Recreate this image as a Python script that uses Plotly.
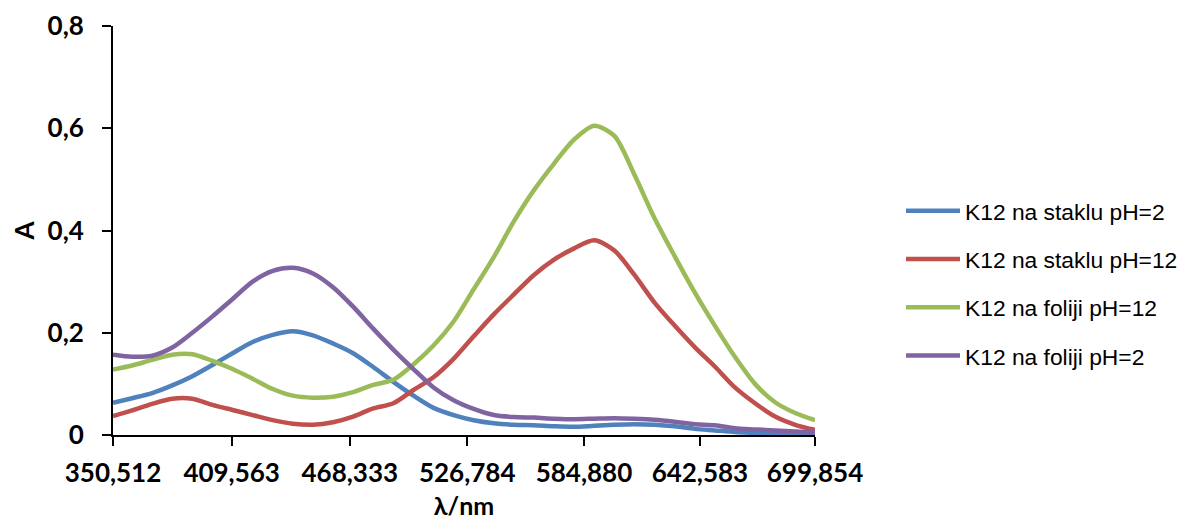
import plotly.graph_objects as go

# ---------------- data ----------------
wavelength = [350.512, 360, 370, 380, 390, 400, 410, 420, 430, 440, 450, 460, 470,
              480, 490, 500, 510, 520, 530, 540, 550, 560, 570, 580, 590, 600,
              610, 620, 630, 640, 650, 660, 670, 680, 690, 699.854]

k12_staklo_ph2 = [0.063, 0.072, 0.082, 0.097, 0.115, 0.137, 0.160, 0.182, 0.196, 0.203,
                  0.195, 0.179, 0.160, 0.133, 0.104, 0.077, 0.053, 0.039, 0.029, 0.023,
                  0.020, 0.019, 0.017, 0.016, 0.018, 0.020, 0.021, 0.020, 0.017, 0.012,
                  0.009, 0.006, 0.004, 0.002, 0.002, 0.002]

k12_staklo_ph12 = [0.037, 0.048, 0.061, 0.071, 0.071, 0.059, 0.049, 0.039, 0.029, 0.022,
                   0.020, 0.025, 0.036, 0.052, 0.062, 0.088, 0.113, 0.149, 0.193, 0.236,
                   0.275, 0.313, 0.343, 0.365, 0.381, 0.361, 0.313, 0.259, 0.214, 0.172,
                   0.134, 0.093, 0.062, 0.036, 0.020, 0.010]

k12_folija_ph12 = [0.128, 0.136, 0.147, 0.157, 0.158, 0.145, 0.129, 0.110, 0.090, 0.077,
                   0.073, 0.075, 0.084, 0.098, 0.108, 0.138, 0.175, 0.222, 0.285, 0.348,
                   0.418, 0.479, 0.531, 0.578, 0.605, 0.585, 0.509, 0.424, 0.350, 0.279,
                   0.214, 0.153, 0.100, 0.064, 0.043, 0.029]

k12_folija_ph2 = [0.157, 0.153, 0.155, 0.171, 0.200, 0.232, 0.266, 0.300, 0.321, 0.327,
                  0.316, 0.289, 0.251, 0.208, 0.167, 0.129, 0.093, 0.068, 0.051, 0.039,
                  0.035, 0.034, 0.032, 0.031, 0.032, 0.033, 0.032, 0.030, 0.026, 0.021,
                  0.019, 0.013, 0.011, 0.009, 0.007, 0.005]

series_names = ["K12 na staklu pH=2", "K12 na staklu pH=12",
                "K12 na foliji pH=12", "K12 na foliji pH=2"]
series_values = [k12_staklo_ph2, k12_staklo_ph12, k12_folija_ph12, k12_folija_ph2]
series_colors = ["#4F81BD", "#C0504D", "#9BBB59", "#8064A2"]

x_tick_values = [350.512, 409.563, 468.333, 526.784, 584.880, 642.583, 699.854]
x_tick_labels = ["350,512", "409,563", "468,333", "526,784", "584,880", "642,583", "699,854"]
y_tick_values = [0, 0.2, 0.4, 0.6, 0.8]

# ---------------- layout geometry ----------------
PAGE_OFF = 8                      # default body margin of the html page
W, H = 1178, 515
ML, MR, MT, MB = 105, 371, 18, 88
PW, PH = W - ML - MR, H - MT - MB


def px_to_paper_x(px):
    return (px - PAGE_OFF - ML) / PW


def px_to_paper_y(py):
    return 1 - (py - PAGE_OFF - MT) / PH


FONT = "Lato, 'Open Sans', 'DejaVu Sans', sans-serif"
LEG_FONT = "'Liberation Sans', Arial, 'DejaVu Sans', sans-serif"

fig = go.Figure()
for name, vals, col in zip(series_names, series_values, series_colors):
    fig.add_trace(go.Scatter(
        x=wavelength, y=vals, name=name, mode="lines",
        line=dict(color=col, width=4.5, shape="spline", smoothing=0.8),
        showlegend=False,
    ))

# manual legend (long line samples like the original)
legend_y_px = [210.7, 259, 307.3, 355.6]
for name, col, ly in zip(series_names, series_colors, legend_y_px):
    fig.add_shape(type="line", xref="paper", yref="paper",
                  x0=px_to_paper_x(906), x1=px_to_paper_x(960),
                  y0=px_to_paper_y(ly), y1=px_to_paper_y(ly),
                  line=dict(color=col, width=4.5))
    fig.add_annotation(xref="paper", yref="paper",
                       x=px_to_paper_x(963), y=px_to_paper_y(ly + 1),
                       xanchor="left", yanchor="middle", showarrow=False,
                       text=name, font=dict(family=LEG_FONT, size=22.8, color="black"))

fig.update_layout(
    width=W, height=H,
    margin=dict(l=ML, r=MR, t=MT, b=MB, autoexpand=False),
    paper_bgcolor="white", plot_bgcolor="white",
    separators=", ",
    showlegend=False,
    font=dict(family=FONT, color="black"),
)

fig.update_xaxes(
    range=[wavelength[0], wavelength[-1]],
    tickmode="array", tickvals=x_tick_values, ticktext=x_tick_labels,
    ticks="outside", ticklen=9, tickwidth=2, tickcolor="black",
    showline=True, linecolor="black", linewidth=2,
    showgrid=False, zeroline=False,
    tickfont=dict(family=FONT, size=26, weight="bold", color="black"),
    ticklabelstandoff=5,
    title=dict(text="λ/nm", font=dict(family=FONT, size=25, weight="bold", color="black"),
               standoff=10),
)

fig.update_yaxes(
    range=[0, 0.8],
    tickmode="array", tickvals=y_tick_values,
    ticks="outside", ticklen=9, tickwidth=2, tickcolor="black",
    showline=True, linecolor="black", linewidth=2,
    showgrid=False, zeroline=False,
    tickfont=dict(family=FONT, size=26, weight="bold", color="black"),
    ticklabelstandoff=13,
    title=dict(text="A", font=dict(family=FONT, size=26, weight="bold", color="black"),
               standoff=14),
)

fig.write_html("out.html")
